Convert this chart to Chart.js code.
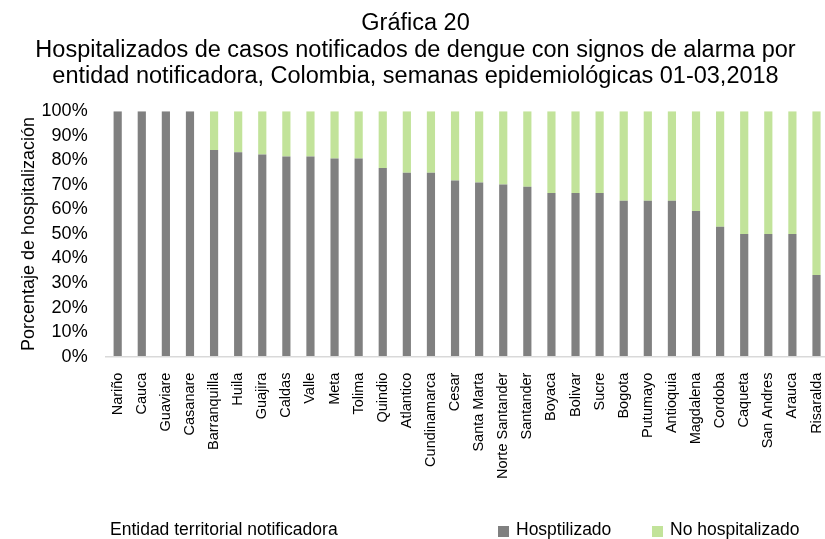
<!DOCTYPE html>
<html lang="es">
<head>
<meta charset="utf-8">
<title>Gráfica 20</title>
<script src="https://cdn.jsdelivr.net/npm/chart.js@4.4.1/dist/chart.umd.min.js"></script>
<style>
  html, body { margin: 0; padding: 0; background: #fff; overflow: hidden; }
  #wrap { width: 825px; height: 539px; position: relative; overflow: hidden; }
</style>
</head>
<body>
<div id="wrap"><canvas id="chartHospitalizacion"></canvas></div>
<script>
// Datos
const entidades = ['Nariño', 'Cauca', 'Guaviare', 'Casanare', 'Barranquilla', 'Huila', 'Guajira', 'Caldas',
  'Valle', 'Meta', 'Tolima', 'Quindio', 'Atlantico', 'Cundinamarca', 'Cesar', 'Santa Marta', 'Norte Santander',
  'Santander', 'Boyaca', 'Bolivar', 'Sucre', 'Bogota', 'Putumayo', 'Antioquia', 'Magdalena', 'Cordoba',
  'Caqueta', 'San Andres', 'Arauca', 'Risaralda'];
const hospitalizado = [100, 100, 100, 100, 84.2, 83.3, 82.4, 81.6, 81.6, 80.8, 80.8, 76.9, 75, 75, 71.8, 71.0,
  70.2, 69.3, 66.7, 66.7, 66.7, 63.6, 63.6, 63.6, 59.4, 52.9, 50, 50, 50, 33.3];
const noHospitalizado = [0, 0, 0, 0, 15.8, 16.7, 17.6, 18.4, 18.4, 19.2, 19.2, 23.1, 25, 25, 28.2, 29.0,
  29.8, 30.7, 33.3, 33.3, 33.3, 36.4, 36.4, 36.4, 40.6, 47.1, 50, 50, 50, 66.7];
const ticksY = [0, 10, 20, 30, 40, 50, 60, 70, 80, 90, 100];

const fuente = "'Liberation Sans', Arial, sans-serif";

// Leyenda y título del eje X en la misma fila inferior
const filaInferior = {
  id: 'filaInferior',
  afterDraw(chart) {
    const ctx = chart.ctx;
    const y = 530;
    ctx.save();
    ctx.font = '17.5px ' + fuente;
    ctx.fillStyle = '#000';
    ctx.textBaseline = 'middle';
    ctx.textAlign = 'left';
    ctx.fillText('Entidad territorial notificadora', 110, y);

    const posiciones = [498, 652];
    chart.data.datasets.forEach(function(ds, i) {
      const x = posiciones[i];
      ctx.fillStyle = ds.backgroundColor;
      ctx.fillRect(x, y - 4, 11, 11);
      ctx.fillStyle = '#000';
      ctx.fillText(ds.label, x + 18, y);
    });
    ctx.restore();
  }
};

document.addEventListener('DOMContentLoaded', function() {
  const canvas = document.getElementById('chartHospitalizacion');
  // el área del gráfico llega hasta el borde derecho (la última barra queda pegada)
  canvas.width = 831;
  canvas.height = 539;

  new Chart(canvas, {
    type: 'bar',
    data: {
      labels: entidades,
      datasets: [
        {
          label: 'Hosptilizado',
          data: hospitalizado,
          backgroundColor: '#808080',
          categoryPercentage: 1,
          barPercentage: 0.34
        },
        {
          label: 'No hospitalizado',
          data: noHospitalizado,
          backgroundColor: '#c2e39a',
          categoryPercentage: 1,
          barPercentage: 0.34
        }
      ]
    },
    options: {
      responsive: false,
      animation: false,
      layout: { padding: { left: 0, right: 0, top: 0, bottom: 60 } },
      plugins: {
        legend: { display: false },
        tooltip: { enabled: false },
        title: {
          display: true,
          text: ['Gráfica 20',
            'Hospitalizados de casos notificados de dengue con signos de alarma por',
            'entidad notificadora, Colombia, semanas epidemiológicas 01-03,2018'],
          color: '#000',
          font: { family: fuente, size: 23.5, weight: 'normal', lineHeight: 1.14 },
          padding: { top: 10, bottom: 21 }
        }
      },
      scales: {
        x: {
          stacked: true,
          // marcas invisibles para separar las etiquetas del eje
          grid: { display: true, drawOnChartArea: false, drawTicks: true, tickLength: 16, color: 'rgba(0,0,0,0)' },
          border: { display: true, color: '#d9d9d9', width: 1.5 },
          ticks: {
            color: '#000',
            autoSkip: false,
            minRotation: 90,
            maxRotation: 90,
            padding: 0,
            font: { family: fuente, size: 14.5, lineHeight: 1 }
          }
        },
        y: {
          stacked: true,
          min: 0,
          max: 100,
          afterBuildTicks: function(axis) {
            axis.ticks = ticksY.map(function(v) { return { value: v }; });
          },
          grid: { display: true, drawOnChartArea: false, drawTicks: true, tickLength: 18, color: 'rgba(0,0,0,0)' },
          border: { display: false },
          ticks: {
            color: '#000',
            autoSkip: false,
            padding: 0,
            font: { family: fuente, size: 18 },
            callback: function(v) { return v + '%'; }
          },
          title: {
            display: true,
            text: 'Porcentaje de hospitalización',
            color: '#000',
            font: { family: fuente, size: 18 },
            padding: { top: 18, bottom: 2 }
          }
        }
      }
    },
    plugins: [filaInferior]
  });
});
</script>
</body>
</html>
